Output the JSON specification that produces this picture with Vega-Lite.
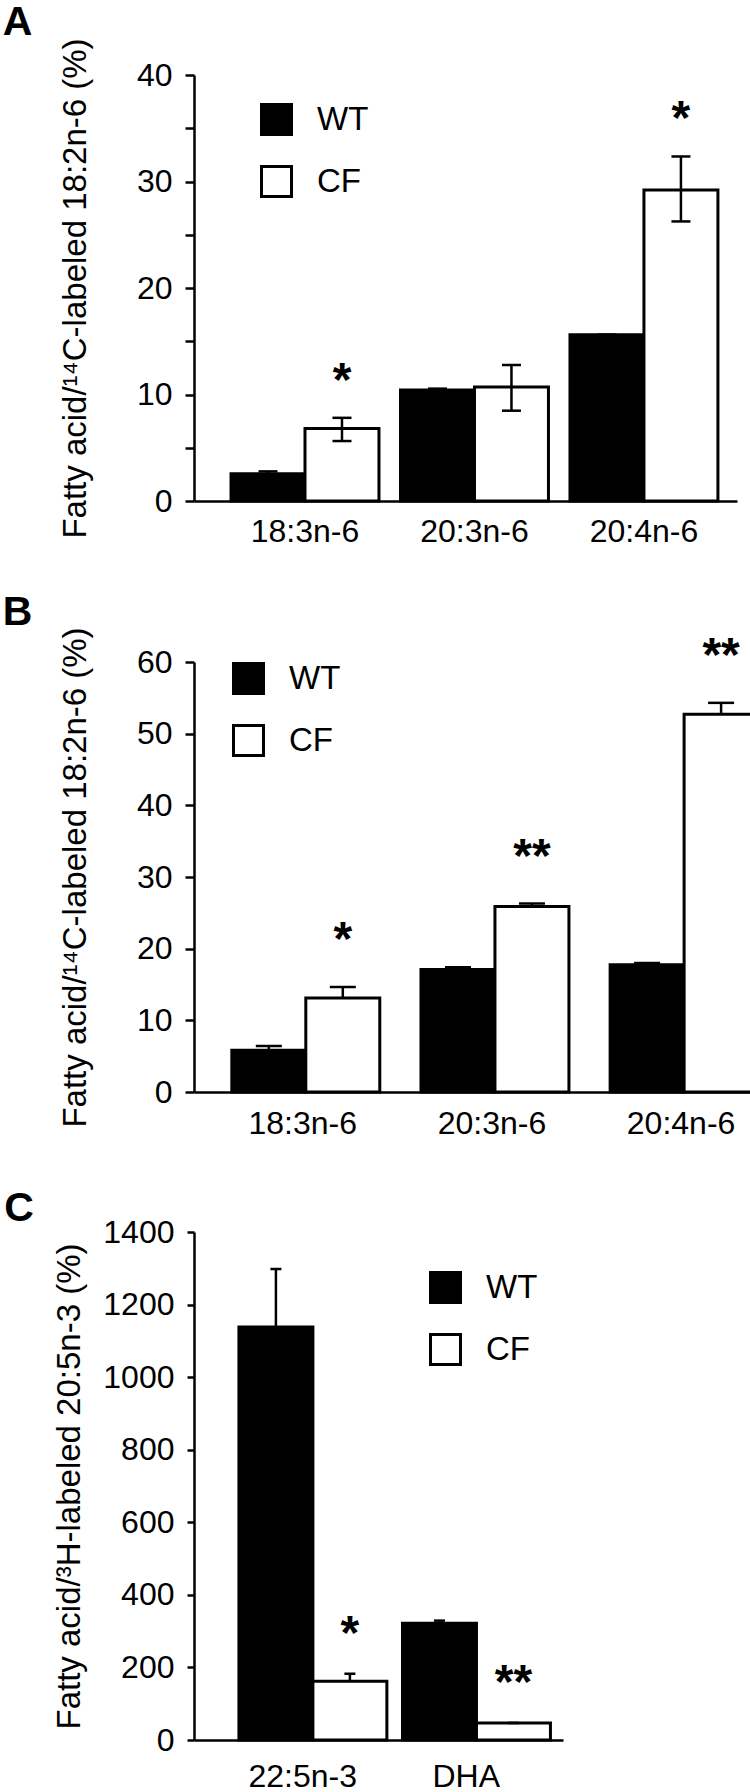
{
  "$schema": "https://vega.github.io/schema/vega-lite/v6.json",
  "padding": {"left": 2, "top": 2, "right": 0, "bottom": 0},
  "background": "white",
  "config": {
    "font": "Liberation Sans, Arial, Helvetica, sans-serif",
    "view": {"stroke": null},
    "axis": {
      "domainColor": "black", "domainWidth": 2.5, "tickColor": "black", "tickWidth": 2.5,
      "labelColor": "black", "labelFontSize": 32, "titleFontSize": 33, "titleFontWeight": "normal",
      "titleColor": "black", "grid": false
    },
    "legend": {
      "orient": "none", "symbolType": "square", "symbolSize": 900, "symbolStrokeColor": "black",
      "symbolStrokeWidth": 3, "labelFontSize": 33, "labelColor": "black", "rowPadding": 19,
      "labelOffset": 24, "padding": 0
    }
  },
  "datasets": {
    "a": [
      {"acid": "18:3n-6", "group": "WT", "value": 2.55, "lo": 2.32, "hi": 2.78, "sig": ""},
      {"acid": "18:3n-6", "group": "CF", "value": 6.8, "lo": 5.63, "hi": 7.81, "sig": "*"},
      {"acid": "20:3n-6", "group": "WT", "value": 10.43, "lo": 10.31, "hi": 10.55, "sig": ""},
      {"acid": "20:3n-6", "group": "CF", "value": 10.7, "lo": 8.48, "hi": 12.77, "sig": ""},
      {"acid": "20:4n-6", "group": "WT", "value": 15.6, "lo": 15.6, "hi": 15.6, "sig": ""},
      {"acid": "20:4n-6", "group": "CF", "value": 29.2, "lo": 26.25, "hi": 32.35, "sig": "*"}
    ],
    "b": [
      {"acid": "18:3n-6", "group": "WT", "value": 5.83, "hi": 6.42, "sig": ""},
      {"acid": "18:3n-6", "group": "CF", "value": 13.1, "hi": 14.65, "sig": "*"},
      {"acid": "20:3n-6", "group": "WT", "value": 17.1, "hi": 17.4, "sig": ""},
      {"acid": "20:3n-6", "group": "CF", "value": 25.9, "hi": 26.3, "sig": "**"},
      {"acid": "20:4n-6", "group": "WT", "value": 17.75, "hi": 18.0, "sig": ""},
      {"acid": "20:4n-6", "group": "CF", "value": 52.7, "hi": 54.3, "sig": "**"}
    ],
    "c": [
      {"acid": "22:5n-3", "group": "WT", "value": 1138, "hi": 1298, "sig": ""},
      {"acid": "22:5n-3", "group": "CF", "value": 161.6, "hi": 182.6, "sig": "*"},
      {"acid": "DHA", "group": "WT", "value": 322, "hi": 329, "sig": ""},
      {"acid": "DHA", "group": "CF", "value": 47, "hi": 47, "sig": "**"}
    ]
  },
  "spacing": 44,
  "resolve": {"scale": {"fill": "independent"}, "legend": {"fill": "independent"}},
  "vconcat": [
    {
      "title": {"text": "A", "orient": "left", "angle": 0, "align": "left", "anchor": "end", "frame": "group", "baseline": "alphabetic", "dy": -40, "offset": 27, "fontSize": 41, "fontWeight": "bold", "color": "black"},
      "width": 543,
      "height": 426,
      "data": {"name": "a"},
      "encoding": {
        "x": {"field": "acid", "type": "nominal", "sort": null,
          "scale": {"paddingInner": 0.127, "paddingOuter": 0.1655, "align": 0.66},
          "axis": {"title": null, "labelAngle": 0, "ticks": false, "tickSize": 0, "labelPadding": 15}},
        "xOffset": {"field": "group", "type": "nominal", "sort": ["WT", "CF"]}
      },
      "layer": [
        {
          "mark": {"type": "bar", "stroke": "black", "strokeWidth": 3},
          "encoding": {
            "y": {"field": "value", "type": "quantitative", "title": "Fatty acid/¹⁴C-labeled 18:2n-6 (%)", "scale": {"domain": [0, 40], "nice": false},
              "axis": {"values": [0, 5, 10, 15, 20, 25, 30, 35, 40],
                "labelExpr": "datum.value % 10 === 0 ? datum.label : ''", "tickSize": 9, "labelPadding": 13, "titlePadding": 44}},
            "fill": {"field": "group", "type": "nominal", "scale": {"domain": ["WT", "CF"], "range": ["black", "white"]},
              "legend": {"title": null, "legendX": 66, "legendY": 28}}
          }
        },
        {
          "mark": {"type": "rule", "strokeWidth": 2.5, "color": "black"},
          "encoding": {"y": {"field": "lo", "type": "quantitative", "title": "Fatty acid/¹⁴C-labeled 18:2n-6 (%)"}, "y2": {"field": "hi"}}
        },
        {
          "mark": {"type": "tick", "size": 19, "thickness": 2.5, "color": "black", "opacity": 1},
          "encoding": {"y": {"field": "hi", "type": "quantitative", "title": "Fatty acid/¹⁴C-labeled 18:2n-6 (%)"}}
        },
        {
          "mark": {"type": "tick", "size": 19, "thickness": 2.5, "color": "black", "opacity": 1},
          "encoding": {"y": {"field": "lo", "type": "quantitative", "title": "Fatty acid/¹⁴C-labeled 18:2n-6 (%)"}}
        },
        {
          "mark": {"type": "text", "fontSize": 48, "fontWeight": "bold", "baseline": "alphabetic", "dy": -22, "color": "black"},
          "encoding": {"y": {"field": "hi", "type": "quantitative", "title": "Fatty acid/¹⁴C-labeled 18:2n-6 (%)"}, "text": {"field": "sig"}}
        }
      ]
    },
    {
      "spacing": 49,
      "resolve": {"scale": {"fill": "independent"}, "legend": {"fill": "independent"}},
      "vconcat": [
        {
          "title": {"text": "B", "orient": "left", "angle": 0, "align": "left", "anchor": "end", "frame": "group", "baseline": "alphabetic", "dy": -37.5, "offset": 27, "fontSize": 41, "fontWeight": "bold", "color": "black"},
          "width": 558,
          "height": 430,
          "data": {"name": "b"},
          "encoding": {
            "x": {"field": "acid", "type": "nominal", "sort": null,
              "scale": {"paddingInner": 0.25, "paddingOuter": 0.1, "align": 1},
              "axis": {"title": null, "labelAngle": 0, "ticks": false, "tickSize": 0, "labelPadding": 16}},
            "xOffset": {"field": "group", "type": "nominal", "sort": ["WT", "CF"]}
          },
          "layer": [
            {
              "mark": {"type": "bar", "stroke": "black", "strokeWidth": 3},
              "encoding": {
                "y": {"field": "value", "type": "quantitative", "title": "Fatty acid/¹⁴C-labeled 18:2n-6 (%)", "scale": {"domain": [0, 60], "nice": false},
                  "axis": {"values": [0, 10, 20, 30, 40, 50, 60],
                    "tickSize": 9, "labelPadding": 13, "titlePadding": 44}},
                "fill": {"field": "group", "type": "nominal", "scale": {"domain": ["WT", "CF"], "range": ["black", "white"]},
                  "legend": {"title": null, "legendX": 38, "legendY": 0}}
              }
            },
            {
              "mark": {"type": "rule", "strokeWidth": 2.5, "color": "black"},
              "encoding": {"y": {"field": "value", "type": "quantitative", "title": "Fatty acid/¹⁴C-labeled 18:2n-6 (%)"}, "y2": {"field": "hi"}}
            },
            {
              "mark": {"type": "tick", "size": 26, "thickness": 2.5, "color": "black", "opacity": 1},
              "encoding": {"y": {"field": "hi", "type": "quantitative", "title": "Fatty acid/¹⁴C-labeled 18:2n-6 (%)"}}
            },
            {
              "mark": {"type": "text", "fontSize": 48, "fontWeight": "bold", "baseline": "alphabetic", "dy": -32, "color": "black"},
              "encoding": {"y": {"field": "hi", "type": "quantitative", "title": "Fatty acid/¹⁴C-labeled 18:2n-6 (%)"}, "text": {"field": "sig"}}
            }
          ]
        },
        {
          "title": {"text": "C", "orient": "left", "angle": 0, "align": "left", "anchor": "end", "frame": "group", "baseline": "alphabetic", "dy": -10.6, "offset": 20, "fontSize": 41, "fontWeight": "bold", "color": "black"},
          "width": 369,
          "height": 508,
          "data": {"name": "c"},
          "encoding": {
            "x": {"field": "acid", "type": "nominal", "sort": null,
              "scale": {"paddingInner": 0.22, "paddingOuter": 0.238, "align": 0.577},
              "axis": {"title": null, "labelAngle": 0, "ticks": false, "tickSize": 0, "labelPadding": 21}},
            "xOffset": {"field": "group", "type": "nominal", "sort": ["WT", "CF"]}
          },
          "layer": [
            {
              "mark": {"type": "bar", "stroke": "black", "strokeWidth": 3},
              "encoding": {
                "y": {"field": "value", "type": "quantitative", "title": "Fatty acid/³H-labeled 20:5n-3 (%)", "scale": {"domain": [0, 1400], "nice": false},
                  "axis": {"values": [0, 200, 400, 600, 800, 1000, 1200, 1400], "format": "d",
                    "tickSize": 7, "labelPadding": 13, "titlePadding": 16}},
                "fill": {"field": "group", "type": "nominal", "scale": {"domain": ["WT", "CF"], "range": ["black", "white"]},
                  "legend": {"title": null, "legendX": 235, "legendY": 39}}
              }
            },
            {
              "mark": {"type": "rule", "strokeWidth": 2.5, "color": "black"},
              "encoding": {"y": {"field": "value", "type": "quantitative", "title": "Fatty acid/³H-labeled 20:5n-3 (%)"}, "y2": {"field": "hi"}}
            },
            {
              "mark": {"type": "tick", "size": 11, "thickness": 2.5, "color": "black", "opacity": 1},
              "encoding": {"y": {"field": "hi", "type": "quantitative", "title": "Fatty acid/³H-labeled 20:5n-3 (%)"}}
            },
            {
              "mark": {"type": "text", "fontSize": 48, "fontWeight": "bold", "baseline": "alphabetic", "dy": -25, "color": "black"},
              "encoding": {"y": {"field": "hi", "type": "quantitative", "title": "Fatty acid/³H-labeled 20:5n-3 (%)"}, "text": {"field": "sig"}}
            }
          ]
        }
      ]
    }
  ]
}
